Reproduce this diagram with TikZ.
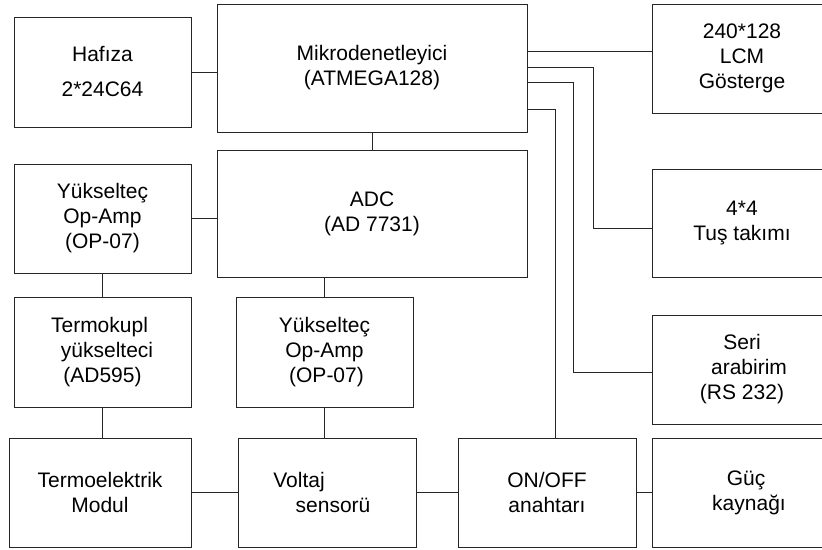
\documentclass[tikz,border=0pt]{standalone}
\usepackage{fontspec}
\setmainfont{Liberation Sans}
\usetikzlibrary{positioning}

\begin{document}
\begin{tikzpicture}[x=1pt,y=-1pt,line width=0.9pt,
    font=\fontsize{21}{25}\selectfont]
	  \tikzstyle{block}=[rectangle,draw=black!85,fill=white,align=center,inner sep=0pt,minimum height=109pt]
	  \tikzstyle{wire}=[draw=black!85]

	  \useasboundingbox (0,0) rectangle (822,549);
	  \clip (0,0) rectangle (822,549);

	  % upper row
	  \node[block,minimum width=177pt,minimum height=110pt] (hafiza) at (102.5,72) {Hafıza\\[10pt]2*24C64};
	  \node[block,minimum width=310pt,minimum height=128pt] (mikro) at (372,68) {Mikrodenetleyici\\(ATMEGA128)};
	  \node[block,minimum width=180pt] (lcm) at (742,58.5) {240*128\\LCM\\Gösterge};

	  % second row
	  \node[block,minimum width=177pt] (yuks1) at (102.5,218.5) {Yükselteç\\Op-Amp\\(OP-07)};
	  \node[block,minimum width=310pt,minimum height=127pt] (adc) at (372,213.5) {ADC\\(AD 7731)};
	  \node[block,minimum width=180pt,minimum height=108pt] (tus) at (742,223) {4*4\\Tuş takımı};

	  % third row
	  \node[block,minimum width=177pt,minimum height=110pt] (termokupl) at (102.5,352) {Termokupl\hspace*{6pt}\\\hspace*{9pt}yükselteci\\(AD595)};
	  \node[block,minimum width=177pt,minimum height=110pt] (yuks2) at (324.5,352) {Yükselteç\\Op-Amp\\\hspace*{4pt}(OP-07)};
	  \node[block,minimum width=180pt] (seri) at (742,369.5) {Seri\\\hspace*{14pt}arabirim\\(RS 232)};

	  % bottom row
	  \node[block,minimum width=182pt] (termoel) at (100,492.5) {Termoelektrik\\Modul};
	  \node[block,minimum width=178pt] (voltaj) at (327,492.5) {Voltaj\hspace*{56pt}\\\hspace*{12pt}sensorü};
	  \node[block,minimum width=178pt] (onoff) at (547,492.5) {ON/OFF\\anahtarı};
	  \node[block,minimum width=180pt] (guc) at (742,492.5) {\hspace*{8pt}Güç\\\hspace*{14pt}kaynağı};

	  \path[wire]
	  (hafiza.east) edge (hafiza.east -| mikro.west)
	  (mikro.south) edge (adc.north)
	  (yuks1.east) edge (yuks1.east -| adc.west)
	  (yuks1.south) edge (termokupl.north)
	  (yuks2.north) edge (yuks2.north |- adc.south)
	  (termokupl.south) edge (termokupl.south |- termoel.north)
	  (yuks2.south) edge (yuks2.south |- voltaj.north)
	  (termoel.east) edge (termoel.east -| voltaj.west)
	  (voltaj.east) edge (voltaj.east -| onoff.west)
	  (onoff.east) edge (onoff.east -| guc.west)
	  ([yshift=7.5pt]lcm.west) edge ([yshift=7.5pt]lcm.west -| mikro.east)
	  ;

	  \draw[wire] ([yshift=1pt]mikro.east) -| ([xshift=-58pt,yshift=-5pt]tus.west) -- ([yshift=-5pt]tus.west);
	  \draw[wire] ([yshift=-14pt]mikro.east) -| ([xshift=-78pt,yshift=-3pt]seri.west) -- ([yshift=-3pt]seri.west);
	  \draw[wire] ([yshift=-41pt]mikro.east) -| ([xshift=8pt]onoff.north);
	\end{tikzpicture}
\end{document}
